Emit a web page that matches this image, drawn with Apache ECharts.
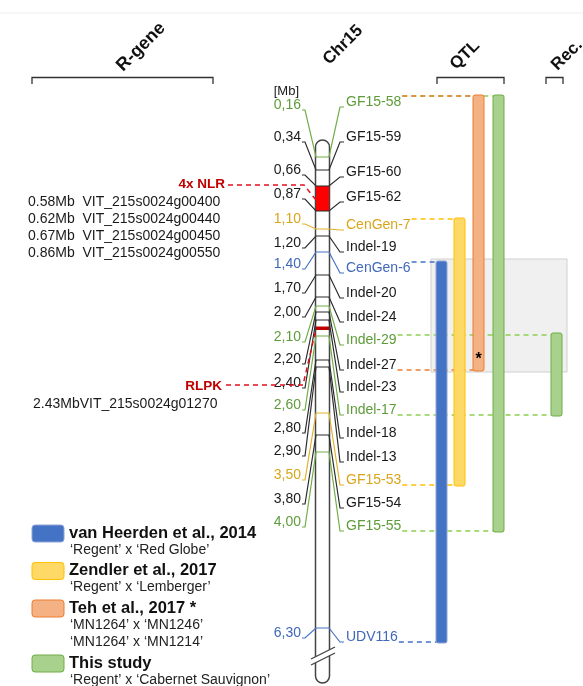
<!DOCTYPE html>
<html>
<head>
<meta charset="utf-8" />
<title>Chr15 QTL</title>
<script src="https://cdn.jsdelivr.net/npm/echarts@6/dist/echarts.min.js"></script>
<style>
html, body { margin: 0; padding: 0; background: #fff; }
#main { width: 583px; height: 686px; }
</style>
</head>
<body>
<div id="main"></div>
<script>
// ---- data ----
var mbLabels = ['0,16','0,34','0,66','0,87','1,10','1,20','1,40','1,70','2,00','2,10','2,20','2,40','2,60','2,80','2,90','3,50','3,80','4,00','6,30'];
var markers = ['GF15-58','GF15-59','GF15-60','GF15-62','CenGen-7','Indel-19','CenGen-6','Indel-20','Indel-24','Indel-29','Indel-27','Indel-23','Indel-17','Indel-18','Indel-13','GF15-53','GF15-54','GF15-55','UDV116'];
// g = this study, y = Zendler, b = van Heerden, k = plain
var markerGroup = ['g','k','k','k','y','k','b','k','k','g','k','k','g','k','k','y','k','g','b'];

var studies = ['van Heerden et al., 2014', 'Zendler et al., 2017', 'Teh et al., 2017 *', 'This study'];
var crosses = [
	['\u2018Regent\u2019 x \u2018Red Globe\u2019'],
	['\u2018Regent\u2019 x \u2018Lemberger\u2019'],
	['\u2018MN1264\u2019 x \u2018MN1246\u2019', '\u2018MN1264\u2019 x \u2018MN1214\u2019'],
	['\u2018Regent\u2019 x \u2018Cabernet Sauvignon\u2019']
];
var qtlStart = ['CenGen-6', 'CenGen-7', 'GF15-58', 'GF15-58'];
var qtlEnd = ['UDV116', 'GF15-53', 'Indel-27', 'GF15-55'];
var recStart = 'Indel-29';
var recEnd = 'Indel-17';
var boxStart = 'CenGen-6';
var boxEnd = 'Indel-27';

var nlrGenes = ['0.58Mb  VIT_215s0024g00400', '0.62Mb  VIT_215s0024g00440', '0.67Mb  VIT_215s0024g00450', '0.86Mb  VIT_215s0024g00550'];
var rlpkGene = '2.43MbVIT_215s0024g01270';

// ---- layout (diagram units = px) ----
var rowLeft  = [105,137,170,194,219,243,264,288,312,337,359,383,405,428,451,475,499,522,633];
var rowRight = [102,137,172,197,225,247,268,293,317,340,365,387,410,433,457,480,503,526,637];
var chromPos = [157,170,186,211,229,236,252,275,297,306,312,320,336,360,367,413,435,452,628];
var qtlLeft = [436, 454, 473, 493];
var recLeft = 551;
var barW = 11;

var FONT = '"Liberation Sans", Arial, sans-serif';
var textColor = { k: '#1a1a1a', g: '#5e9c3a', y: '#d9a51c', b: '#4068b8' };
var lineColor = { k: '#2b2b2b', g: '#70ad47', y: '#e2b12c', b: '#4472c4' };
var barFill = ['#4472c4', '#ffd966', '#f4b183', '#a9d18e'];
var barStroke = ['#8ea6d4', '#ffc000', '#ed7d31', '#70ad47'];
var dashColor = ['#4472c4', '#ffc000', '#ed7d31', '#8fd050'];

var measureCtx = document.createElement('canvas').getContext('2d');
function textW(t, font) {
	measureCtx.font = font;
	return measureCtx.measureText(t).width;
}
function idx(name) { return markers.indexOf(name); }
function labelEnd(i) { return 346 + textW(markers[i], '14px ' + FONT) + 1; }
function barTop(name) { return rowRight[idx(name)] - 7; }
function barBottom(name) { return rowRight[idx(name)] + 6; }

// dashed guide lines: [x0, y, x1, colourIndex]
var dashes = [];
dashes.push([labelEnd(idx('GF15-58')), barTop('GF15-58') + 1, qtlLeft[3] + barW, 3]);
for (var s = 0; s < 3; s++) {
	dashes.push([labelEnd(idx(qtlStart[s])), barTop(qtlStart[s]) + 1, qtlLeft[s] + barW, s]);
	dashes.push([labelEnd(idx(qtlEnd[s])), barBottom(qtlEnd[s]) - 1, qtlLeft[s] + barW, s]);
}
dashes.push([labelEnd(idx(qtlEnd[3])), barBottom(qtlEnd[3]) - 1, qtlLeft[3] + barW, 3]);
dashes.push([labelEnd(idx(recStart)), barTop(recStart) + 2, recLeft + barW, 3]);
dashes.push([labelEnd(idx(recEnd)), barBottom(recEnd) - 1, recLeft + barW, 3]);

var chart = echarts.init(document.getElementById('main'));

function P(api, x, y) { return api.coord([x, y]); }

function renderChrom(params, api) {
	var a = P(api, 315.5, 140), b = P(api, 329.5, 683);
	return {
		type: 'group',
		children: [
			{ type: 'rect', shape: { x: a[0], y: a[1], width: b[0] - a[0], height: b[1] - a[1], r: 7 },
			  style: { fill: '#fff', stroke: '#444', lineWidth: 1.5 } },
			{ type: 'rect', shape: { x: a[0] + 0.5, y: P(api, 0, 186)[1], width: b[0] - a[0] - 1, height: 25 },
			  style: { fill: '#ff0000' } },
			{ type: 'rect', shape: { x: a[0] + 0.5, y: P(api, 0, 326.5)[1], width: b[0] - a[0] - 1, height: 3.5 },
			  style: { fill: '#c00000' } },
			{ type: 'polygon', shape: { points: [P(api, 311, 659), P(api, 335, 647), P(api, 335, 653), P(api, 311, 665)] },
			  style: { fill: '#fff' } },
			{ type: 'line', shape: { x1: 311, y1: 659, x2: 335, y2: 647 }, style: { stroke: '#444', lineWidth: 1.3 } },
			{ type: 'line', shape: { x1: 311, y1: 665, x2: 335, y2: 653 }, style: { stroke: '#444', lineWidth: 1.3 } }
		]
	};
}

function renderMarker(params, api) {
	var i = params.dataIndex;
	var g = markerGroup[i];
	var L = rowLeft[i], R = rowRight[i], c = chromPos[i];
	var pts = [[302, L + 5], [305, L + 5], [316, c], [329, c], [340, R + 5], [344, R + 5]].map(function (p) { return P(api, p[0], p[1]); });
	var lp = P(api, 301, L), rp = P(api, 346, R);
	return {
		type: 'group',
		children: [
			{ type: 'polyline', shape: { points: pts }, style: { stroke: lineColor[g], lineWidth: 1.2, fill: null } },
			{ type: 'text', x: lp[0], y: lp[1], style: { text: mbLabels[i], fill: textColor[g], font: '14px ' + FONT, align: 'right', verticalAlign: 'middle' } },
			{ type: 'text', x: rp[0], y: rp[1], style: { text: markers[i], fill: textColor[g], font: '14px ' + FONT, align: 'left', verticalAlign: 'middle' } }
		]
	};
}

function renderDash(params, api) {
	var d = dashes[params.dataIndex];
	var p0 = P(api, d[0], d[1]), p1 = P(api, d[2], d[1]);
	return { type: 'line', shape: { x1: p0[0], y1: p0[1], x2: p1[0], y2: p1[1] },
		style: { stroke: dashColor[d[3]], lineWidth: 1.5, lineDash: [5, 4] } };
}

function renderBar(params, api) {
	var i = params.dataIndex;
	var x, y0, y1, k;
	if (i < 4) { x = qtlLeft[i]; y0 = barTop(qtlStart[i]); y1 = barBottom(qtlEnd[i]); k = i; }
	else { x = recLeft; y0 = barTop(recStart); y1 = barBottom(recEnd); k = 3; }
	var a = P(api, x, y0), b = P(api, x + barW, y1);
	var kids = [{ type: 'rect', shape: { x: a[0], y: a[1], width: b[0] - a[0], height: b[1] - a[1], r: 2 },
		style: { fill: barFill[k], stroke: barStroke[k], lineWidth: 1 } }];
	if (i === 2) {
		kids.push({ type: 'text', x: (a[0] + b[0]) / 2, y: b[1] - 11,
			style: { text: '*', fill: '#000', font: 'bold 16px ' + FONT, align: 'center', verticalAlign: 'middle' } });
	}
	return { type: 'group', children: kids };
}

function renderBox(params, api) {
	var a = P(api, 431, rowRight[idx(boxStart)] - 9), b = P(api, 567, rowRight[idx(boxEnd)] + 7);
	return { type: 'rect', shape: { x: a[0], y: a[1], width: b[0] - a[0], height: b[1] - a[1] },
		style: { fill: '#f0f0f0', stroke: '#d0d0d0', lineWidth: 1 } };
}

function renderRgene(params, api) {
	var kids = [];
	var nlr = [P(api, 228, 185), P(api, 304, 185), P(api, 316, 200)];
	var rl = [P(api, 226, 385), P(api, 303, 385), P(api, 316, 329)];
	kids.push({ type: 'polyline', shape: { points: nlr }, style: { stroke: '#e0101e', lineWidth: 1.5, lineDash: [5, 4], fill: null } });
	kids.push({ type: 'polyline', shape: { points: rl }, style: { stroke: '#e0101e', lineWidth: 1.5, lineDash: [5, 4], fill: null } });
	var t1 = P(api, 225, 184), t2 = P(api, 222, 386);
	kids.push({ type: 'text', x: t1[0], y: t1[1], style: { text: '4x NLR', fill: '#c00000', font: 'bold 13.5px ' + FONT, align: 'right', verticalAlign: 'middle' } });
	kids.push({ type: 'text', x: t2[0], y: t2[1], style: { text: 'RLPK', fill: '#c00000', font: 'bold 13.5px ' + FONT, align: 'right', verticalAlign: 'middle' } });
	nlrGenes.forEach(function (t, j) {
		var p = P(api, 28, 202 + j * 17);
		kids.push({ type: 'text', x: p[0], y: p[1], style: { text: t, fill: '#1a1a1a', font: '14px ' + FONT, align: 'left', verticalAlign: 'middle' } });
	});
	var p = P(api, 33, 404);
	kids.push({ type: 'text', x: p[0], y: p[1], style: { text: rlpkGene, fill: '#1a1a1a', font: '14px ' + FONT, align: 'left', verticalAlign: 'middle' } });
	return { type: 'group', children: kids };
}

// headers, brackets and legend
var graphics = [
	{ type: 'line', shape: { x1: 0, y1: 13, x2: 583, y2: 13 }, style: { stroke: '#eeeeee', lineWidth: 1 } },
	{ type: 'text', x: 141, y: 47, rotation: Math.PI / 4, style: { text: 'R-gene', font: 'bold 18px ' + FONT, fill: '#111', align: 'center', verticalAlign: 'middle' } },
	{ type: 'text', x: 343, y: 45, rotation: Math.PI / 4, style: { text: 'Chr15', font: 'bold 17px ' + FONT, fill: '#111', align: 'center', verticalAlign: 'middle' } },
	{ type: 'text', x: 465, y: 55, rotation: Math.PI / 4, style: { text: 'QTL', font: 'bold 17px ' + FONT, fill: '#111', align: 'center', verticalAlign: 'middle' } },
	{ type: 'text', x: 567, y: 55, rotation: Math.PI / 4, style: { text: 'Rec.', font: 'bold 17px ' + FONT, fill: '#111', align: 'center', verticalAlign: 'middle' } },
	{ type: 'polyline', shape: { points: [[32, 84], [32, 77.5], [213, 77.5], [213, 84]] }, style: { stroke: '#333', lineWidth: 1.3, fill: null } },
	{ type: 'polyline', shape: { points: [[437, 84], [437, 77.5], [504, 77.5], [504, 84]] }, style: { stroke: '#333', lineWidth: 1.3, fill: null } },
	{ type: 'polyline', shape: { points: [[546, 84], [546, 77.5], [563, 77.5], [563, 84]] }, style: { stroke: '#333', lineWidth: 1.3, fill: null } },
	{ type: 'text', x: 299, y: 91, style: { text: '[Mb]', font: '13px ' + FONT, fill: '#1a1a1a', align: 'right', verticalAlign: 'middle' } }
];

var ly = 533;
studies.forEach(function (name, k) {
	graphics.push({ type: 'rect', shape: { x: 32, y: ly - 8, width: 32, height: 17, r: 3 },
		style: { fill: barFill[k], stroke: barStroke[k], lineWidth: 1 } });
	graphics.push({ type: 'text', x: 69, y: ly, style: { text: name, font: 'bold 16.5px ' + FONT, fill: '#111', align: 'left', verticalAlign: 'middle' } });
	var y = ly + 17;
	crosses[k].forEach(function (c) {
		graphics.push({ type: 'text', x: 70, y: y, style: { text: c, font: '14px ' + FONT, fill: '#222', align: 'left', verticalAlign: 'middle' } });
		y += 17.5;
	});
	ly = y + 3;
});

var option = {
	animation: false,
	grid: { left: 0, right: 0, top: 0, bottom: 0 },
	xAxis: { type: 'value', min: 0, max: 583, show: false },
	yAxis: { type: 'value', min: 0, max: 686, inverse: true, show: false },
	graphic: graphics,
	series: [
		{ type: 'custom', z: 1, renderItem: renderBox, data: [[0, 0]] },
		{ type: 'custom', z: 2, renderItem: renderDash, data: dashes.map(function (d, i) { return [i, d[1]]; }) },
		{ type: 'custom', z: 3, renderItem: renderBar, data: [[0, 0], [1, 0], [2, 0], [3, 0], [4, 0]] },
		{ type: 'custom', z: 2, renderItem: renderChrom, data: [[0, 0]] },
		{ type: 'custom', z: 4, renderItem: renderMarker, data: markers.map(function (m, i) { return [i, rowRight[i]]; }) },
		{ type: 'custom', z: 4, renderItem: renderRgene, data: [[0, 0]] }
	]
};
chart.setOption(option);
</script>
</body>
</html>
